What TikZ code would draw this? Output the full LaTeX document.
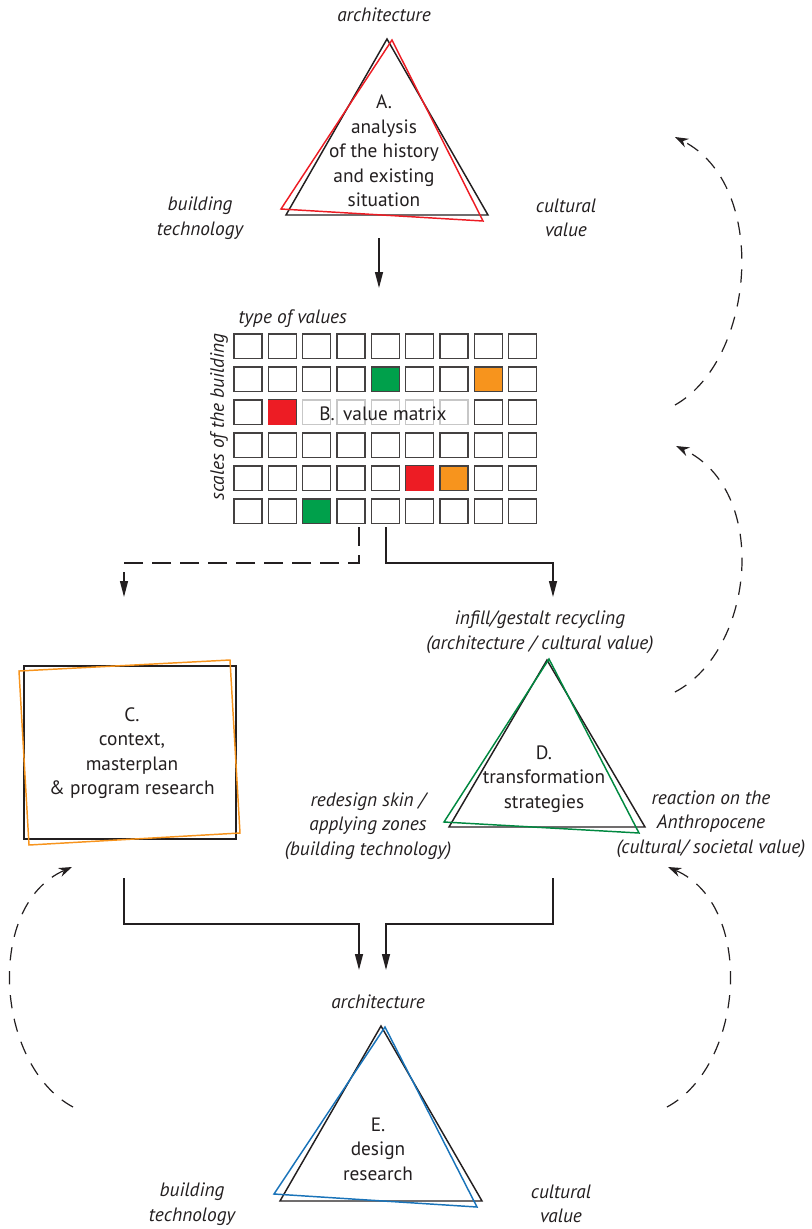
\documentclass[tikz,border=0pt]{standalone}
\usepackage{fontspec}
\setmainfont{PT Sans}
\usetikzlibrary{arrows.meta}
\definecolor{vred}{RGB}{237,28,36}
\definecolor{vorange}{RGB}{247,148,29}
\definecolor{vgreen}{RGB}{0,160,75}
\definecolor{vblue}{RGB}{25,115,185}
\definecolor{ink}{RGB}{35,31,32}
\newcommand{\dsize}{\fontsize{14.5}{18.4}\selectfont}

\tikzset{
  tri/.style={line width=1.1pt, line join=miter},
  conn/.style={ink, line width=1pt, -{Triangle[length=12pt,width=6pt]}},
  dashconn/.style={conn, dash pattern=on 14pt off 7pt},
  loopback/.style={ink, line width=0.9pt, dash pattern=on 10pt off 8pt, -{Stealth[length=10pt,width=7pt]}},
  lbl/.style={font=\dsize\itshape, text=ink, align=center},
  body/.style={font=\dsize, text=ink, align=center},
  cellbox/.style={line width=0.9pt}
}

\begin{document}
\begin{tikzpicture}[x=0.75pt,y=-0.75pt]
\useasboundingbox (0,0) rectangle (812,1229);
%%\draw[help lines,step=100] (0,0) grid (812,1229);

%% A. analysis triangle
\coordinate (A1) at (387,39);
\coordinate (A2) at (286,215);
\coordinate (A3) at (488,215);
\draw[tri,ink] (A1)--(A2)--(A3)--cycle;
\draw[tri,vred] (392,40)--(281,209)--(483,221)--cycle;
\node[body] (A) at (384,151) {A.\\analysis\\of the history\\and existing\\situation};
\node[lbl] (Atop) at (384,15) {architecture};
\node[lbl] (Aleft) at (200,218) {building\\technology};
\node[lbl] (Aright) at (566,218) {cultural\\value};

%% B. value matrix
\foreach \r in {0,...,5}{
  \foreach \c in {0,...,8}{
    \coordinate (m-\r-\c) at (234+34.33*\c,334+33*\r);
    \pgfmathtruncatemacro\lite{and(\r==2,and(\c>1,\c<7))}
    \ifnum\lite=1 \def\cellcol{black!22}\else\def\cellcol{ink!85}\fi
    \draw[cellbox,draw=\cellcol] (m-\r-\c) rectangle ++(28,24.5);
  }
}
\draw[cellbox,fill=vgreen,draw=ink!85] (m-1-4) rectangle ++(28,24.5);
\draw[cellbox,fill=vorange,draw=ink!85] (m-1-7) rectangle ++(28,24.5);
\fill[vred] (m-2-1) rectangle ++(28,24.5);
\fill[vred] (m-4-5) rectangle ++(28,24.5);
\draw[cellbox,fill=vorange,draw=ink!85] (m-4-6) rectangle ++(28,24.5);
\draw[cellbox,fill=vgreen,draw=ink!85] (m-5-2) rectangle ++(28,24.5);
\node[body] (B) at (383,414) {B.\, value matrix};
\node[lbl,anchor=west] (Btop) at (234,319) {type of values};
\node[lbl,rotate=90] (Bside) at (219,417) {scales of the building};

%% C. context box
\draw[line width=1.1pt,ink] (24,666) rectangle (236,839);
\draw[line width=1.1pt,vorange] (19,671)--(230,660)--(240,833)--(29,845)--cycle;
\node[body] (C) at (132,753) {C.\\context,\\masterplan\\\& program research};

%% D. transformation triangle
\coordinate (D1) at (547,660);
\coordinate (D2) at (449,827);
\coordinate (D3) at (645,827);
\draw[tri,ink] (D1)--(D2)--(D3)--cycle;
\draw[tri,vgreen!85!black] (549,659)--(444,822)--(639,833)--cycle;
\node[body] (D) at (544,779) {D.\\transformation\\strategies};
\node[lbl] (Dtop) at (540,632) {infill/gestalt recycling\\(architecture / cultural value)};
\node[lbl] (Dleft) at (368,826) {redesign skin /\\applying zones\\(building technology)};
\node[lbl] (Dright) at (711,824) {reaction on the\\Anthropocene\\(cultural/ societal value)};

%% E. design research triangle
\coordinate (E1) at (381,1026);
\coordinate (E2) at (280,1201);
\coordinate (E3) at (482,1201);
\draw[tri,ink] (E1)--(E2)--(E3)--cycle;
\draw[tri,vblue] (385,1027)--(274,1194)--(477,1207)--cycle;
\node[body] (E) at (378,1149) {E.\\design\\research};
\node[lbl] (Etop) at (378,1002) {architecture};
\node[lbl] (Eleft) at (192,1204) {building\\technology};
\node[lbl] (Eright) at (561,1204) {cultural\\value};

%% connectors
\coordinate (Aout) at (379,238);
\coordinate (Bin) at (379,288);
\coordinate (Bl) at (359,527);
\coordinate (Br) at (386,527);
\coordinate (Cin) at (124,597);
\coordinate (Din) at (553,597);
\coordinate (Cout) at (124,878);
\coordinate (Dout) at (553,878);
\coordinate (El) at (359,970);
\coordinate (Er) at (386,970);
\draw[conn] (Aout) -- (Bin);
\draw[dashconn] (Bl) -- ++(0,36) -| (Cin);
\draw[conn] (Br) -- ++(0,36) -| (Din);
\draw[conn] (Cout) -- ++(0,46) -| (El);
\draw[conn] (Dout) -- ++(0,46) -| (Er);

%% feedback loops
\coordinate (f1s) at (675,405);
\coordinate (f1e) at (675,137);
\coordinate (f2s) at (675,692);
\coordinate (f2e) at (676,446);
\coordinate (f3s) at (73,1107);
\coordinate (f3e) at (72,867);
\coordinate (f4s) at (667,1107);
\coordinate (f4e) at (668,867);
\draw[loopback] (f1s) .. controls (755,360) and (770,185) .. (f1e);
\draw[loopback] (f2s) .. controls (755,650) and (770,490) .. (f2e);
\draw[loopback] (f3s) .. controls (-5,1065) and (-15,905) .. (f3e);
\draw[loopback] (f4s) .. controls (745,1065) and (755,905) .. (f4e);
\end{tikzpicture}
\end{document}
